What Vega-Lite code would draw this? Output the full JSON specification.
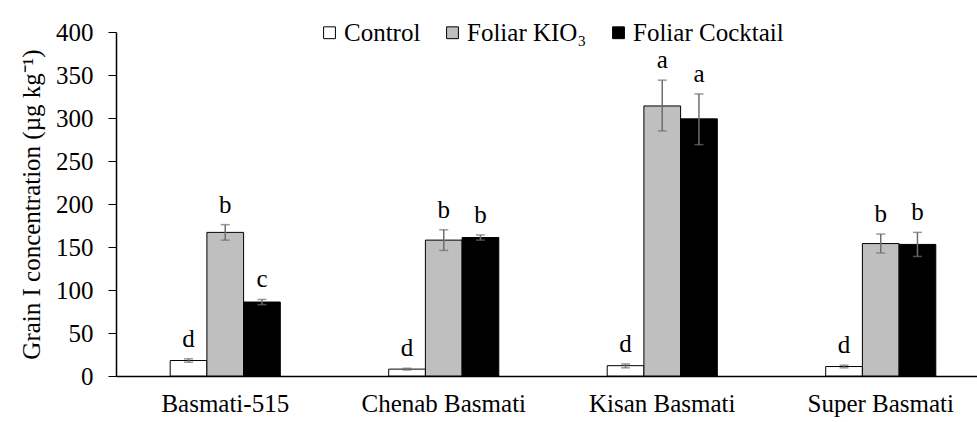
{
  "$schema": "https://vega.github.io/schema/vega-lite/v6.json",
  "width": 874,
  "height": 344,
  "autosize": "none",
  "padding": {"left": 116, "top": 32, "right": 0, "bottom": 46},
  "background": "white",
  "config": {
    "font": "'Liberation Serif', serif",
    "view": {"stroke": null},
    "axis": {"labelFont": "'Liberation Serif', serif", "titleFont": "'Liberation Serif', serif", "labelColor": "black", "titleColor": "black", "domainColor": "black", "tickColor": "black", "grid": false, "labelFontSize": 25, "titleFontSize": 25, "titleFontWeight": "normal"},
    "legend": {"labelFont": "'Liberation Serif', serif", "labelFontSize": 25, "labelColor": "black"},
    "text": {"font": "'Liberation Serif', serif"}
  },
  "data": {
    "values": [
      {"variety": "Basmati-515", "treatment": "Control", "mean": 18, "lo": 16, "hi": 20, "letter": "d"},
      {"variety": "Basmati-515", "treatment": "Foliar KIO₃", "mean": 167, "lo": 158, "hi": 176, "letter": "b"},
      {"variety": "Basmati-515", "treatment": "Foliar Cocktail", "mean": 86, "lo": 83, "hi": 89, "letter": "c"},
      {"variety": "Chenab Basmati", "treatment": "Control", "mean": 8, "lo": 7, "hi": 9, "letter": "d"},
      {"variety": "Chenab Basmati", "treatment": "Foliar KIO₃", "mean": 158, "lo": 146, "hi": 170, "letter": "b"},
      {"variety": "Chenab Basmati", "treatment": "Foliar Cocktail", "mean": 161, "lo": 158, "hi": 164, "letter": "b"},
      {"variety": "Kisan Basmati", "treatment": "Control", "mean": 12, "lo": 9.5, "hi": 14, "letter": "d"},
      {"variety": "Kisan Basmati", "treatment": "Foliar KIO₃", "mean": 314, "lo": 285, "hi": 344, "letter": "a"},
      {"variety": "Kisan Basmati", "treatment": "Foliar Cocktail", "mean": 299, "lo": 269, "hi": 328, "letter": "a"},
      {"variety": "Super Basmati", "treatment": "Control", "mean": 11, "lo": 9.5, "hi": 12.5, "letter": "d"},
      {"variety": "Super Basmati", "treatment": "Foliar KIO₃", "mean": 154, "lo": 143, "hi": 165, "letter": "b"},
      {"variety": "Super Basmati", "treatment": "Foliar Cocktail", "mean": 153, "lo": 139, "hi": 167, "letter": "b"}
    ]
  },
  "encoding": {
    "x": {
      "field": "variety", "type": "nominal",
      "sort": ["Basmati-515", "Chenab Basmati", "Kisan Basmati", "Super Basmati"],
      "scale": {"paddingInner": 0.16, "paddingOuter": 0.08},
      "axis": {"title": null, "labelAngle": 0, "ticks": false, "tickSize": 0, "labelPadding": 15, "domainWidth": 1.5}
    },
    "xOffset": {
      "field": "treatment", "type": "nominal",
      "sort": ["Control", "Foliar KIO₃", "Foliar Cocktail"],
      "scale": {"paddingInner": 0, "paddingOuter": 1}
    }
  },
  "layer": [
    {
      "mark": {"type": "bar", "stroke": "black", "strokeWidth": 1},
      "encoding": {
        "y": {
          "field": "mean", "type": "quantitative",
          "scale": {"domain": [0, 400], "nice": false},
          "axis": {"title": "Grain I concentration (µg kg⁻¹)", "values": [0, 50, 100, 150, 200, 250, 300, 350, 400], "tickSize": 8, "labelPadding": 15, "titlePadding": 11, "domainWidth": 1.5}
        },
        "color": {
          "field": "treatment", "type": "nominal",
          "sort": ["Control", "Foliar KIO₃", "Foliar Cocktail"],
          "scale": {"domain": ["Control", "Foliar KIO₃", "Foliar Cocktail"], "range": ["#ffffff", "#bfbfbf", "#000000"]},
          "legend": {"title": null, "orient": "none", "direction": "horizontal", "legendX": 201, "legendY": -12, "padding": 0, "symbolType": "square", "symbolSize": 140, "symbolStrokeColor": "black", "symbolStrokeWidth": 1, "columnPadding": 19, "labelOffset": 2}
        }
      }
    },
    {
      "mark": {"type": "rule", "color": "#6e6e6e", "strokeWidth": 1.5},
      "encoding": {
        "y": {"field": "lo", "type": "quantitative"},
        "y2": {"field": "hi"}
      }
    },
    {
      "mark": {"type": "tick", "color": "#6e6e6e", "thickness": 1.5, "size": 9},
      "encoding": {"y": {"field": "lo", "type": "quantitative"}}
    },
    {
      "mark": {"type": "tick", "color": "#6e6e6e", "thickness": 1.5, "size": 9},
      "encoding": {"y": {"field": "hi", "type": "quantitative"}}
    },
    {
      "mark": {"type": "text", "baseline": "bottom", "dy": -7, "fontSize": 25, "color": "black"},
      "encoding": {
        "y": {"field": "hi", "type": "quantitative"},
        "text": {"field": "letter"}
      }
    }
  ]
}
